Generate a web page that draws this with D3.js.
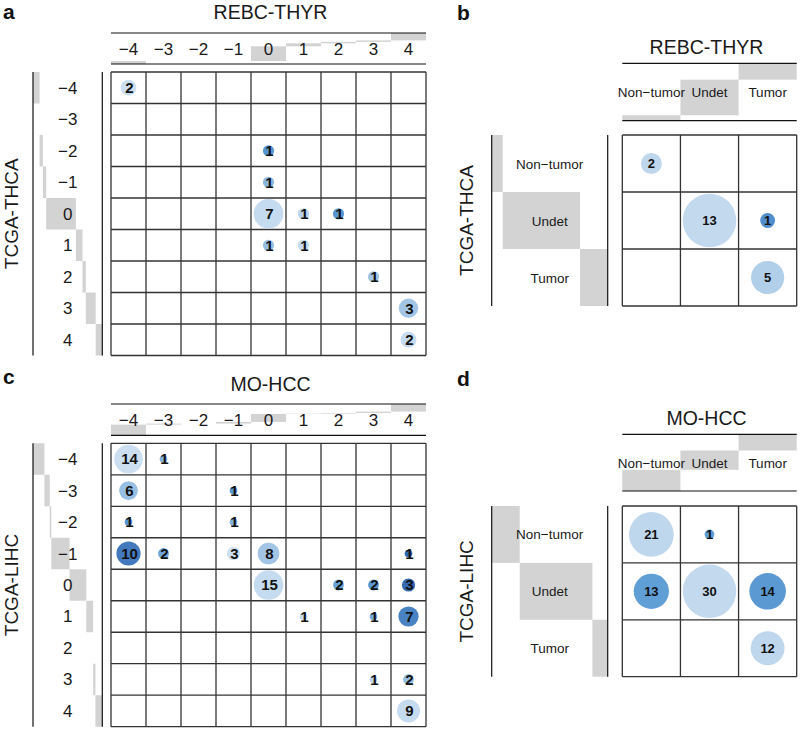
<!DOCTYPE html>
<html>
<head>
<meta charset="utf-8">
<script src="https://cdn.jsdelivr.net/npm/d3@7"></script>
<style>
  html, body { margin: 0; padding: 0; background: #fff; }
  svg { display: block; }
  text { font-family: "Liberation Sans", Arial, Helvetica, sans-serif; }
</style>
</head>
<body>
<svg id="chart" width="800" height="730"></svg>
<script>
// ---------------- DATA ----------------
const scoreLevels = ["\u22124", "\u22123", "\u22122", "\u22121", "0", "1", "2", "3", "4"];
const statusLevels = ["Non\u2212tumor", "Undet", "Tumor"];

// Panel a: rows = TCGA-THCA score, cols = REBC-THYR score
const thcaScoreCounts = [
  [2, 0, 0, 0, 0, 0, 0, 0, 0],
  [0, 0, 0, 0, 0, 0, 0, 0, 0],
  [0, 0, 0, 0, 1, 0, 0, 0, 0],
  [0, 0, 0, 0, 1, 0, 0, 0, 0],
  [0, 0, 0, 0, 7, 1, 1, 0, 0],
  [0, 0, 0, 0, 1, 1, 0, 0, 0],
  [0, 0, 0, 0, 0, 0, 0, 1, 0],
  [0, 0, 0, 0, 0, 0, 0, 0, 3],
  [0, 0, 0, 0, 0, 0, 0, 0, 2]
];
const thcaScoreShade = [
  [0.05, 0, 0, 0, 0, 0, 0, 0, 0],
  [0, 0, 0, 0, 0, 0, 0, 0, 0],
  [0, 0, 0, 0, 0.7, 0, 0, 0, 0],
  [0, 0, 0, 0, 0.45, 0, 0, 0, 0],
  [0, 0, 0, 0, 0.1, 0.2, 0.7, 0, 0],
  [0, 0, 0, 0, 0.4, 0.1, 0, 0, 0],
  [0, 0, 0, 0, 0, 0, 0, 0.35, 0],
  [0, 0, 0, 0, 0, 0, 0, 0, 0.35],
  [0, 0, 0, 0, 0, 0, 0, 0, 0.1]
];

// Panel b: rows = TCGA-THCA status, cols = REBC-THYR status
const thcaStatusCounts = [
  [2, 0, 0],
  [0, 13, 1],
  [0, 0, 5]
];
const thcaStatusShade = [
  [0.15, 0, 0],
  [0, 0.12, 0.75],
  [0, 0, 0.25]
];

// Panel c: rows = TCGA-LIHC score, cols = MO-HCC score
const lihcScoreCounts = [
  [14, 1, 0, 0, 0, 0, 0, 0, 0],
  [6, 0, 0, 1, 0, 0, 0, 0, 0],
  [1, 0, 0, 1, 0, 0, 0, 0, 0],
  [10, 2, 0, 3, 8, 0, 0, 0, 1],
  [0, 0, 0, 0, 15, 0, 2, 2, 3],
  [0, 0, 0, 0, 0, 1, 0, 1, 7],
  [0, 0, 0, 0, 0, 0, 0, 0, 0],
  [0, 0, 0, 0, 0, 0, 0, 1, 2],
  [0, 0, 0, 0, 0, 0, 0, 0, 9]
];
const lihcScoreShade = [
  [0.05, 0.5, 0, 0, 0, 0, 0, 0, 0],
  [0.4, 0, 0, 0.7, 0, 0, 0, 0, 0],
  [0.7, 0, 0, 0.5, 0, 0, 0, 0, 0],
  [0.85, 0.6, 0, 0.05, 0.35, 0, 0, 0, 0.95],
  [0, 0, 0, 0, 0.1, 0, 0.6, 0.7, 0.95],
  [0, 0, 0, 0, 0, 0.1, 0, 0.55, 0.8],
  [0, 0, 0, 0, 0, 0, 0, 0, 0],
  [0, 0, 0, 0, 0, 0, 0, 0.15, 0.4],
  [0, 0, 0, 0, 0, 0, 0, 0, 0.1]
];

// Panel d: rows = TCGA-LIHC status, cols = MO-HCC status
const lihcStatusCounts = [
  [21, 1, 0],
  [13, 30, 14],
  [0, 0, 12]
];
const lihcStatusShade = [
  [0.15, 0.65, 0],
  [0.65, 0.12, 0.68],
  [0, 0, 0.15]
];

// ---------------- DRAWING ----------------
const svg = d3.select("#chart");
const color = d3.scaleLinear()
  .domain([0, 0.33, 0.66, 1])
  .range(["#d3e3f3", "#a6c8e6", "#5e9dd6", "#2d5fa9"]);

function drawPanel(cfg) {
  const g = svg.append("g");
  const x = d3.scaleBand().domain(cfg.cols).range(cfg.gridX).padding(0);
  const y = d3.scaleBand().domain(cfg.rows).range(cfg.gridY).padding(0);

  const cells = [];
  cfg.counts.forEach((row, i) => row.forEach((n, j) => {
    cells.push({ r: cfg.rows[i], c: cfg.cols[j], n: n, s: cfg.shade[i][j] });
  }));
  const total = d3.sum(cells, d => d.n);
  const colSums = cfg.cols.map((c, j) => d3.sum(cfg.counts, row => row[j]));
  const rowSums = cfg.counts.map(row => d3.sum(row));

  // top marginal cascade bars
  const hTop = d3.scaleLinear().domain([0, total]).range([0, cfg.topLines[1] - cfg.topLines[0]]);
  let cum = 0;
  const topBars = colSums.map((v, j) => { const o = { c: cfg.cols[j], a: cum, b: cum + v }; cum += v; return o; });
  g.selectAll(".tb").data(topBars).enter().append("rect")
    .attr("x", d => x(d.c)).attr("width", x.bandwidth())
    .attr("y", d => cfg.topLines[1] - hTop(d.b))
    .attr("height", d => hTop(d.b) - hTop(d.a))
    .attr("fill", "#d3d3d3");

  // left marginal cascade bars
  const wLeft = d3.scaleLinear().domain([0, total]).range(cfg.leftLines);
  cum = 0;
  const leftBars = rowSums.map((v, i) => { const o = { r: cfg.rows[i], a: cum, b: cum + v }; cum += v; return o; });
  g.selectAll(".lb").data(leftBars).enter().append("rect")
    .attr("y", d => y(d.r)).attr("height", y.bandwidth())
    .attr("x", d => wLeft(d.a))
    .attr("width", d => wLeft(d.b) - wLeft(d.a))
    .attr("fill", "#d3d3d3");

  // marginal axis lines
  cfg.topLines.forEach(ly => g.append("line")
    .attr("x1", cfg.gridX[0]).attr("x2", cfg.gridX[1]).attr("y1", ly).attr("y2", ly)
    .attr("stroke", "#111").attr("stroke-width", 1.2));
  cfg.leftLines.forEach(lx => g.append("line")
    .attr("y1", cfg.gridY[0]).attr("y2", cfg.gridY[1]).attr("x1", lx).attr("x2", lx)
    .attr("stroke", "#111").attr("stroke-width", 1.2));

  // labels
  const topMid = (cfg.topLines[0] + cfg.topLines[1]) / 2;
  g.selectAll(".tl").data(cfg.cols).enter().append("text")
    .attr("x", d => x(d) + x.bandwidth() / 2)
    .attr("y", topMid + cfg.labelDy)
    .attr("text-anchor", "middle")
    .attr("font-size", cfg.labelSize)
    .attr("fill", "#1a1a1a")
    .text(d => d);
  const leftMid = (cfg.leftLines[0] + cfg.leftLines[1]) / 2;
  g.selectAll(".ll").data(cfg.rows).enter().append("text")
    .attr("x", leftMid)
    .attr("y", d => y(d) + y.bandwidth() / 2 + cfg.labelDy)
    .attr("text-anchor", "middle")
    .attr("font-size", cfg.labelSize)
    .attr("fill", "#1a1a1a")
    .text(d => d);

  // grid
  const gx = cfg.cols.map(c => x(c)).concat([cfg.gridX[1]]);
  const gy = cfg.rows.map(r => y(r)).concat([cfg.gridY[1]]);
  gx.forEach(v => g.append("line").attr("x1", v).attr("x2", v)
    .attr("y1", cfg.gridY[0]).attr("y2", cfg.gridY[1])
    .attr("stroke", "#333").attr("stroke-width", 1.3));
  gy.forEach(v => g.append("line").attr("y1", v).attr("y2", v)
    .attr("x1", cfg.gridX[0]).attr("x2", cfg.gridX[1])
    .attr("stroke", "#333").attr("stroke-width", 1.3));

  // bubbles
  const maxN = d3.max(cells, d => d.n);
  const rScale = d3.scaleSqrt().domain([0, maxN])
    .range([0, 0.47 * Math.min(x.bandwidth(), y.bandwidth())]);
  const nz = cells.filter(d => d.n > 0);
  g.selectAll(".bub").data(nz).enter().append("circle")
    .attr("cx", d => x(d.c) + x.bandwidth() / 2)
    .attr("cy", d => y(d.r) + y.bandwidth() / 2)
    .attr("r", d => rScale(d.n))
    .attr("fill", d => color(d.s));
  g.selectAll(".bt").data(nz).enter().append("text")
    .attr("x", d => x(d.c) + x.bandwidth() / 2 + (cfg.numDx || 0))
    .attr("y", d => y(d.r) + y.bandwidth() / 2)
    .attr("dy", "0.36em")
    .attr("text-anchor", "middle")
    .attr("font-size", cfg.numSize)
    .attr("font-weight", "bold")
    .attr("fill", "#111")
    .text(d => d.n);

  // title
  g.append("text")
    .attr("x", (cfg.gridX[0] + cfg.gridX[1]) / 2 + cfg.titleDx)
    .attr("y", cfg.titleY)
    .attr("text-anchor", "middle")
    .attr("font-size", 19.5)
    .attr("fill", "#1a1a1a")
    .text(cfg.title);
  // y title
  const yc = (cfg.gridY[0] + cfg.gridY[1]) / 2;
  g.append("text")
    .attr("transform", `translate(${cfg.yTitleX},${yc}) rotate(-90)`)
    .attr("text-anchor", "middle")
    .attr("dy", "0.36em")
    .attr("font-size", 19)
    .attr("fill", "#1a1a1a")
    .text(cfg.yTitle);
  // letter
  g.append("text")
    .attr("x", cfg.letter[0]).attr("y", cfg.letter[1])
    .attr("font-size", 21).attr("font-weight", "bold").attr("fill", "#111")
    .text(cfg.letterText);
}

drawPanel({
  rows: scoreLevels, cols: scoreLevels,
  counts: thcaScoreCounts, shade: thcaScoreShade,
  gridX: [111, 426], gridY: [72, 355.5],
  topLines: [33, 64], leftLines: [33, 102.3],
  labelSize: 17, labelDy: 6, numSize: 15, numDx: 1,
  title: "REBC-THYR", titleY: 18.5, titleDx: 2,
  yTitle: "TCGA-THCA", yTitleX: 11,
  letter: [3, 19], letterText: "a"
});
drawPanel({
  rows: statusLevels, cols: statusLevels,
  counts: thcaStatusCounts, shade: thcaStatusShade,
  gridX: [622.3, 796.7], gridY: [135, 306],
  topLines: [63.3, 120.7], leftLines: [491.7, 607.7],
  labelSize: 13.5, labelDy: 5, numSize: 13, numDx: 0,
  title: "REBC-THYR", titleY: 54, titleDx: -3,
  yTitle: "TCGA-THCA", yTitleX: 466,
  letter: [457, 19.5], letterText: "b"
});
drawPanel({
  rows: scoreLevels, cols: scoreLevels,
  counts: lihcScoreCounts, shade: lihcScoreShade,
  gridX: [111, 426], gridY: [443.3, 726.7],
  topLines: [404, 435.3], leftLines: [33, 102.3],
  labelSize: 17, labelDy: 6, numSize: 15, numDx: 1,
  title: "MO-HCC", titleY: 391, titleDx: 2,
  yTitle: "TCGA-LIHC", yTitleX: 11,
  letter: [3, 384], letterText: "c"
});
drawPanel({
  rows: statusLevels, cols: statusLevels,
  counts: lihcStatusCounts, shade: lihcStatusShade,
  gridX: [622.3, 796.7], gridY: [506, 676.7],
  topLines: [434.3, 491], leftLines: [491.7, 607.7],
  labelSize: 13.5, labelDy: 5, numSize: 13, numDx: 0,
  title: "MO-HCC", titleY: 425, titleDx: -3,
  yTitle: "TCGA-LIHC", yTitleX: 466,
  letter: [457, 386], letterText: "d"
});
</script>
</body>
</html>
